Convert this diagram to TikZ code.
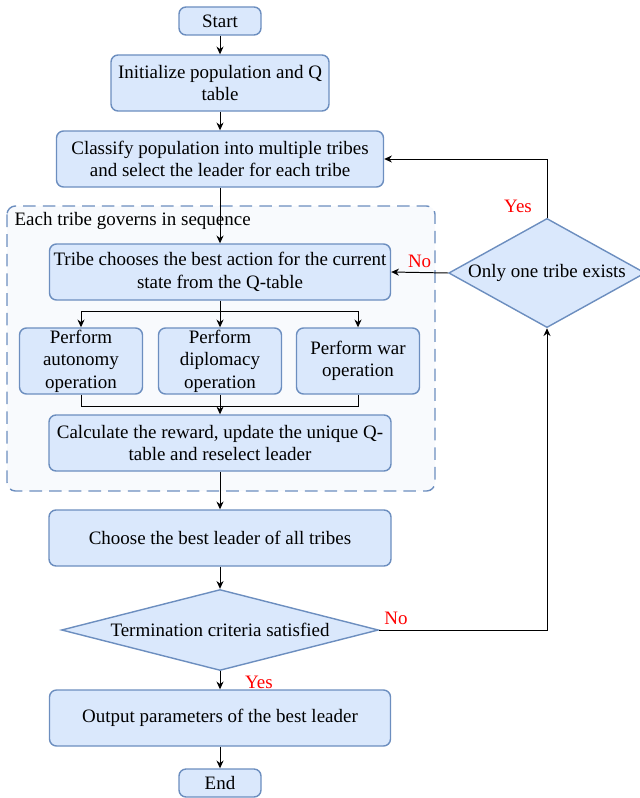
\documentclass[tikz,border=0pt]{standalone}
\usepackage{fontspec}
\setmainfont{Liberation Serif}
\usepackage{tikz}
\usetikzlibrary{arrows.meta,shapes.geometric,positioning}

\definecolor{boxfill}{HTML}{DAE8FC}
\definecolor{boxline}{HTML}{6C8EBF}
\definecolor{zonefill}{HTML}{F8FAFD}

\begin{document}
\begin{tikzpicture}[
    every node/.style={font=\fontsize{13.5}{16}\selectfont},
    box/.style={draw=boxline, fill=boxfill, line width=1pt, rounded corners=5pt,
      align=center, inner sep=1pt, minimum height=1.4cm},
    startend/.style={box, minimum width=2.05cm, minimum height=0.7cm},
    opbox/.style={box, minimum width=3.075cm, minimum height=1.65cm},
    decision/.style={diamond, draw=boxline, fill=boxfill, line width=1pt,
      align=center, inner sep=1pt},
    zone/.style={draw=boxline, fill=zonefill, line width=1pt, rounded corners=6pt,
      dash pattern=on 9pt off 5pt},
    flow/.style={-{Stealth[length=5.5pt,width=5pt]}, line width=0.7pt},
    line/.style={line width=0.7pt},
    lbl/.style={text=red}
  ]
   \useasboundingbox (0,0) rectangle (16,-19.95);
   \draw[zone] (0.175,-5.15) rectangle (10.875,-12.275);
   \draw (0.24,-5.525) node[anchor=west] (zonetitle) {Each tribe governs in sequence};

   \draw (5.5,-0.525) node[startend] (start) {Start};
   \draw (5.5,-2.075) node[box, minimum width=5.45cm] (init) {Initialize population and Q\\table};
   \draw (5.5,-3.975) node[box, minimum width=8.175cm] (classify) {Classify population into multiple tribes\\and select the leader for each tribe};
   \draw (5.5,-6.8) node[box, minimum width=8.525cm] (choose) {Tribe chooses the best action for the current\\state from the Q-table};
   \draw (2.025,-9.025) node[opbox] (autonomy) {Perform\\autonomy\\operation};
   \draw (5.5,-9.025) node[opbox] (diplomacy) {Perform\\diplomacy\\operation};
   \draw (8.95,-9.025) node[opbox] (war) {Perform war\\operation};
   \draw (5.5,-11.075) node[box, minimum width=8.55cm] (reward) {Calculate the reward, update the unique Q-\\table and reselect leader};
   \draw (5.5,-13.45) node[box, minimum width=8.55cm] (best) {Choose the best leader of all tribes};
   \draw (5.5,-15.75) node[decision, minimum width=7.925cm, minimum height=2.025cm, aspect=3.9] (term) {Termination criteria satisfied};
   \draw (13.675,-6.825) node[decision, minimum width=4.825cm, minimum height=2.7cm, aspect=1.8] (single) {Only one tribe exists};
   \draw (5.5,-17.95) node[box, minimum width=8.525cm] (output) {Output parameters of the best leader};
   \draw (5.5,-19.575) node[startend] (end) {End};

   \coordinate (split) at (5.5,-7.775);
   \coordinate (merge) at (5.5,-10.15);

   \path[flow] (start) edge (init)
               (init) edge (classify)
               (classify) edge (choose);
   \draw[line] (choose) -- (split);
   \draw[flow] (split) -| (autonomy.north);
   \draw[flow] (split) -- (diplomacy);
   \draw[flow] (split) -| (war.north);
   \draw[line] (autonomy.south) |- (merge);
   \draw[line] (war.south) |- (merge);
   \draw[flow] (diplomacy) -- (reward);
   \path[flow] (reward) edge (best)
               (best) edge (term)
               (term) edge node[lbl, pos=0, anchor=north west, xshift=0.5cm] (yesend) {Yes} (output)
               (output) edge (end);
   \draw[flow] (term.east) -| node[lbl, pos=0, anchor=south west] (noloop) {No} (single.south);
   \draw[flow] (single.west) -- node[lbl, above] (nonext) {No} (choose.east);
   \draw[flow] (single.north) |- node[lbl, pos=0, above left, xshift=-0.25cm] (yesmerge) {Yes} (classify.east);
\end{tikzpicture}
\end{document}
